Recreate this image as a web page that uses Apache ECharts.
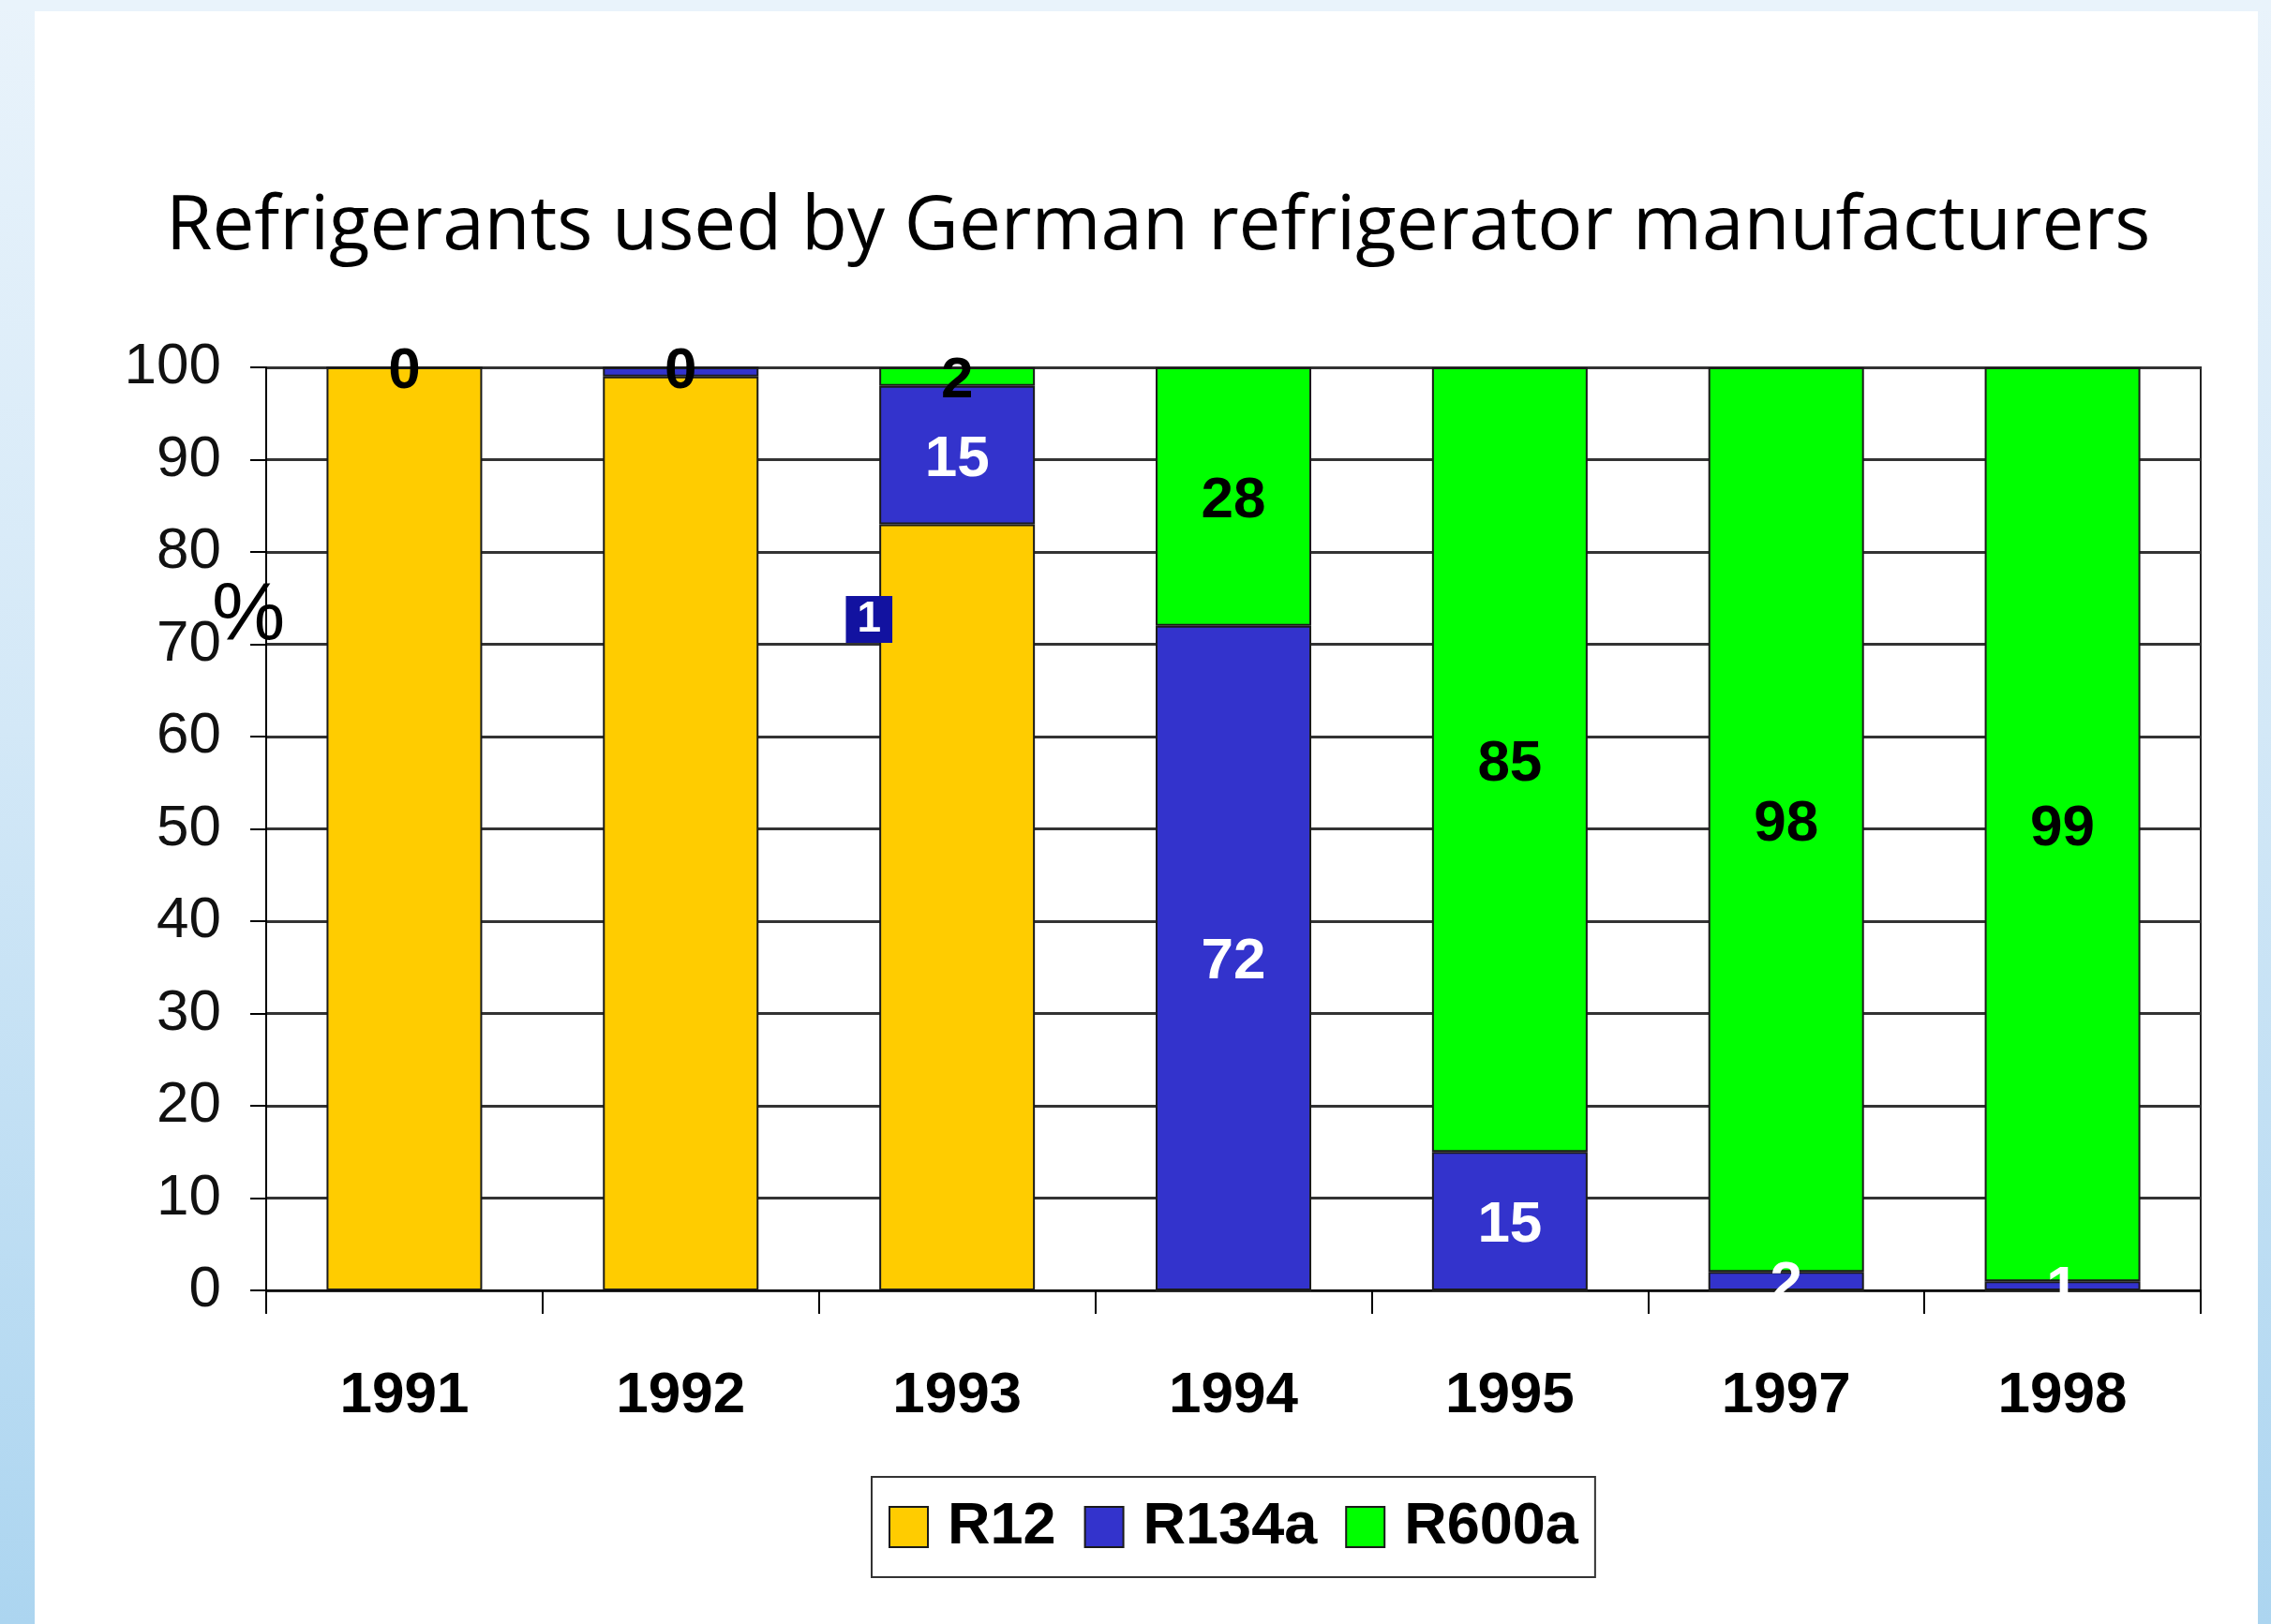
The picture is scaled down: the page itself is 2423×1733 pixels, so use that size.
<!DOCTYPE html>
<html>
<head>
<meta charset="utf-8">
<script src="https://cdn.jsdelivr.net/npm/echarts@6/dist/echarts.min.js"></script>
<style>
  html, body { margin: 0; padding: 0; width: 2423px; height: 1733px; overflow: hidden; }
  body { background: linear-gradient(to bottom, #e9f3fb 0%, #d3e8f7 45%, #acd5f0 100%); position: relative; }
  #card { position: absolute; left: 37px; top: 12px; width: 2372px; height: 1721px; background: #ffffff; }
  #top { position: absolute; left: 0; top: 0; width: 2423px; height: 12px; background: #e9f3fb; }
  #chart { position: absolute; left: 0; top: 0; width: 2423px; height: 1733px; }
</style>
</head>
<body>
<div id="top"></div>
<div id="card"></div>
<div id="chart"></div>
<script>
// Share of refrigerants (%) per year
const years = ['1991', '1992', '1993', '1994', '1995', '1997', '1998'];
const r12   = [100, 99, 83, 0, 0, 0, 0];
const r134a = [0, 1, 15, 72, 15, 2, 1];
const r600a = [0, 0, 2, 28, 85, 98, 99];
const yTicks = { min: 0, max: 100, interval: 10 };

const FONT = "'Liberation Sans', Arial, sans-serif";
const BAR_BORDER = '#1a1a1a';

const chart = echarts.init(document.getElementById('chart'), null, { renderer: 'canvas' });

// R134a labels are white; the 1992 label sits in its own dark box beside the 1993 bar
const r134aData = r134a.map((v, i) => {
  if (i === 1) {
    return {
      value: v,
      label: {
        show: true,
        offset: [201, 264],
        backgroundColor: '#1212a0',
        color: '#ffffff',
        fontSize: 46,
        padding: [3, 12, 1, 12]
      }
    };
  }
  return { value: v, label: { show: v > 0 } };
});

const option = {
  backgroundColor: 'transparent',
  animation: false,
  title: {
    text: 'Refrigerants used by German refrigerator manufacturers',
    left: 172,
    top: 198,
    textStyle: {
      fontFamily: "'Open Sans', sans-serif",
      fontWeight: 'normal',
      fontSize: 80,
      color: '#000000'
    }
  },
  legend: {
    left: 930,
    top: 1576,
    orient: 'horizontal',
    itemWidth: 41,
    itemHeight: 43,
    itemGap: 30,
    padding: [22, 18, 22, 18],
    borderColor: '#333333',
    borderWidth: 2,
    backgroundColor: '#ffffff',
    icon: 'rect',
    textStyle: {
      fontFamily: FONT,
      fontWeight: 'bold',
      fontSize: 63,
      color: '#000000',
      padding: [0, 0, 0, 16]
    },
    data: ['R12', 'R134a', 'R600a']
  },
  grid: {
    left: 284,
    right: 75,
    top: 392,
    bottom: 356,
    show: true,
    borderColor: '#222222',
    borderWidth: 2,
    containLabel: false
  },
  xAxis: {
    type: 'category',
    data: years,
    axisLine: { show: true, lineStyle: { color: '#000000', width: 2 } },
    axisTick: { show: true, length: 25, lineStyle: { color: '#000000', width: 2 } },
    axisLabel: {
      margin: 82,
      fontFamily: FONT,
      fontWeight: 'bold',
      fontSize: 62,
      color: '#000000'
    },
    splitLine: { show: false }
  },
  yAxis: {
    type: 'value',
    min: yTicks.min,
    max: yTicks.max,
    interval: yTicks.interval,
    axisLine: { show: true, lineStyle: { color: '#000000', width: 2 } },
    axisTick: { show: true, length: 17, lineStyle: { color: '#000000', width: 2 } },
    axisLabel: {
      margin: 48,
      fontFamily: FONT,
      fontSize: 62,
      color: '#111111'
    },
    splitLine: { show: true, lineStyle: { color: '#333333', width: 3 } }
  },
  graphic: [
    {
      type: 'text',
      left: 226,
      top: 614,
      z: 10,
      style: { text: '%', font: "88px 'Liberation Sans', Arial, sans-serif", fill: '#000000' }
    }
  ],
  series: [
    {
      name: 'R12',
      type: 'bar',
      stack: 'total',
      barWidth: 166,
      data: r12,
      itemStyle: { color: '#ffcc00', borderColor: BAR_BORDER, borderWidth: 2 },
      label: { show: false }
    },
    {
      name: 'R134a',
      type: 'bar',
      stack: 'total',
      barWidth: 166,
      data: r134aData,
      itemStyle: { color: '#3333cc', borderColor: BAR_BORDER, borderWidth: 2 },
      label: {
        show: true,
        position: 'inside',
        offset: [0, 5],
        fontFamily: FONT,
        fontWeight: 'bold',
        fontSize: 62,
        color: '#ffffff'
      }
    },
    {
      name: 'R600a',
      type: 'bar',
      stack: 'total',
      barWidth: 166,
      data: r600a,
      itemStyle: { color: '#00ff00', borderColor: BAR_BORDER, borderWidth: 2 },
      label: {
        show: true,
        position: 'inside',
        offset: [0, 5],
        fontFamily: FONT,
        fontWeight: 'bold',
        fontSize: 62,
        color: '#000000'
      }
    }
  ]
};

chart.setOption(option);
</script>
</body>
</html>
